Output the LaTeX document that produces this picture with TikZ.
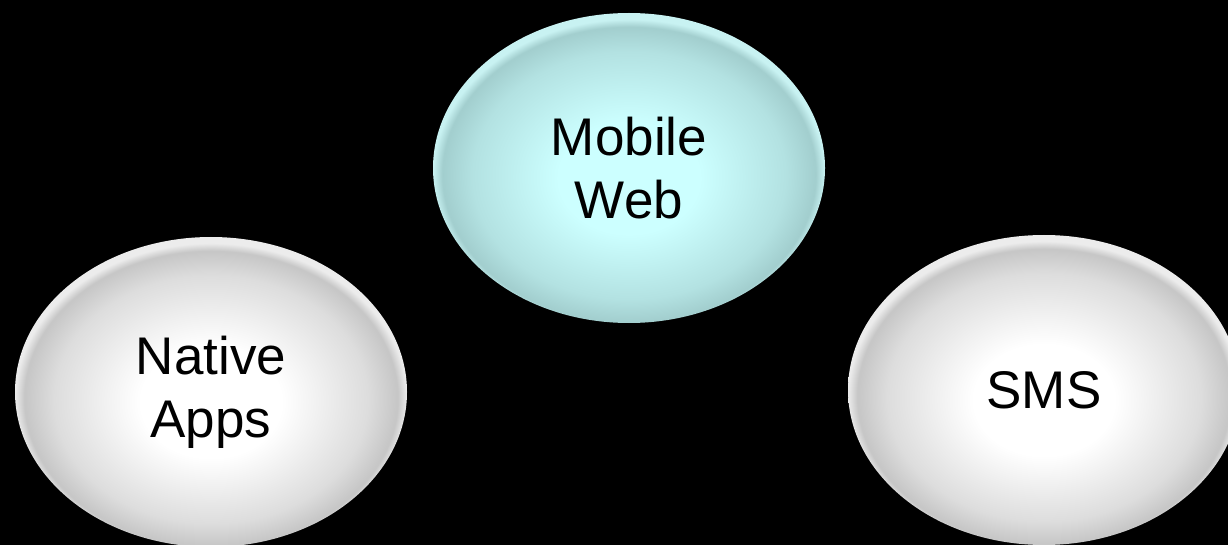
\documentclass[tikz,border=0pt]{standalone}
\usepackage{fontspec}
\setmainfont{Liberation Sans}
\usetikzlibrary{shapes.geometric}
\definecolor{cyanc}{HTML}{CCFFFF}
\definecolor{cyane}{HTML}{A2CECE}
\definecolor{cyanr}{HTML}{C8F2F2}
\definecolor{grayc}{HTML}{FFFFFF}
\definecolor{graye}{HTML}{C6C6C6}
\definecolor{grayr}{HTML}{ECECEC}
\pgfdeclareradialshading{ballgray}{\pgfpoint{0bp}{-2bp}}{color(0bp)=(grayc); color(9bp)=(grayc); color(20bp)=(graye!60!white); color(23.8bp)=(graye); color(25bp)=(grayr); color(50bp)=(grayr)}
\pgfdeclareradialshading{ballcyan}{\pgfpoint{0bp}{-2bp}}{color(0bp)=(cyanc); color(9bp)=(cyanc); color(20bp)=(cyane!60!cyanc); color(23.8bp)=(cyane); color(25bp)=(cyanr); color(50bp)=(cyanr)}
\tikzset{
  bubble/.style={ellipse, minimum width=392pt, minimum height=310pt, inner sep=0pt,
    align=center, font=\fontsize{53}{63}\selectfont, text=black},
}
\begin{document}
\begin{tikzpicture}[x=1pt,y=-1pt]
\fill[black] (0,0) rectangle (1228,545);
\useasboundingbox (0,0) rectangle (1228,545);
\begin{scope}
\clip (0,0) rectangle (1228,545);
\node[bubble, shading=ballcyan] (web) at (629,168) {Mobile\\Web};
\node[bubble, shading=ballgray] (native) at (211,392) {Native\\Apps};
\node[bubble, shading=ballgray] (sms) at (1044,390) {SMS};
\end{scope}
\end{tikzpicture}
\end{document}
